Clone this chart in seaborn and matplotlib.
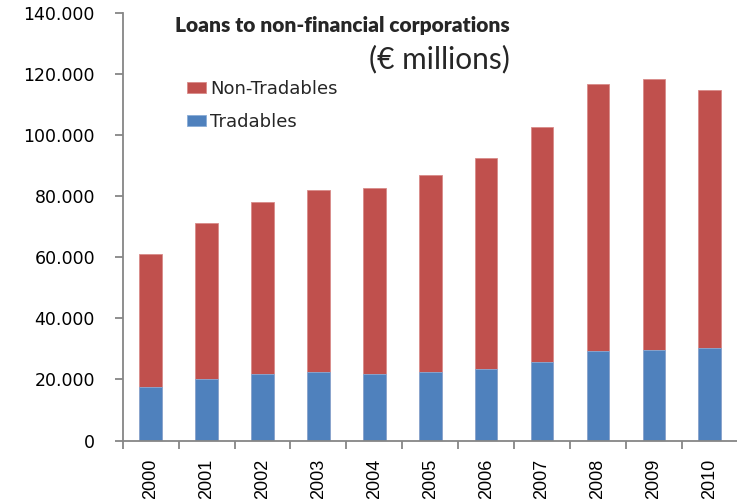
import matplotlib
matplotlib.use("Agg")
import matplotlib.pyplot as plt
from matplotlib import font_manager
from matplotlib.ticker import FuncFormatter, FixedLocator
import seaborn as sns
import pandas as pd
import numpy as np

years = ["2000", "2001", "2002", "2003", "2004", "2005",
         "2006", "2007", "2008", "2009", "2010"]
tradables = [17400, 20100, 21900, 22400, 21900, 22400,
             23500, 25800, 29300, 29800, 30200]
non_tradables = [43700, 51300, 56200, 59600, 61000, 64600,
                 69100, 76900, 87400, 88800, 84800]

title = "Loans to non-financial corporations"
subtitle = "(€ millions)"
series_names = ["Non-Tradables", "Tradables"]
y_ticks = [0, 20000, 40000, 60000, 80000, 100000, 120000, 140000]

BLUE = "#4F81BD"
RED = "#C0504D"
AXIS = "#868686"

sns.set_theme(style="white")
plt.rcParams["font.family"] = ["DejaVu Sans"]

names = {f.name for f in font_manager.fontManager.ttflist}
narrow = "Liberation Sans Narrow" if "Liberation Sans Narrow" in names else "Liberation Sans"
title_font = "Lato" if "Lato" in names else "DejaVu Sans"

df = pd.DataFrame({
    "year": years,
    "Tradables": tradables,
    "Non-Tradables": non_tradables,
})
df["total"] = df["Tradables"] + df["Non-Tradables"]

fig = plt.figure(figsize=(7.37, 4.99), dpi=100)
ax = fig.add_axes([0.1665, 0.1172, 0.8345, 0.856])

sns.barplot(data=df, x="year", y="total", color=RED, width=0.405,
            saturation=1, edgecolor="#D98B89", linewidth=0.6,
            label=series_names[0], ax=ax)
sns.barplot(data=df, x="year", y="Tradables", color=BLUE, width=0.405,
            saturation=1, edgecolor="#8AACD6", linewidth=0.6,
            label=series_names[1], ax=ax)

ax.set_xlim(-0.5, len(years) - 0.5)
ax.set_ylim(0, 140000)
ax.set_yticks(y_ticks)
ax.yaxis.set_major_formatter(FuncFormatter(lambda v, p: f"{int(v):,}".replace(",", ".")))
ax.set_xlabel("")
ax.set_ylabel("")

for s in ["top", "right"]:
    ax.spines[s].set_visible(False)
for s in ["left", "bottom"]:
    ax.spines[s].set_color(AXIS)
    ax.spines[s].set_linewidth(1.3)

ax.tick_params(axis="y", which="major", direction="out", length=6, width=1.3,
               color=AXIS, left=True, pad=14, labelsize=12.5, labelcolor="black")
ax.xaxis.set_minor_locator(FixedLocator(np.arange(-0.5, len(years), 1.0)))
ax.tick_params(axis="x", which="minor", direction="out", length=6, width=1.3,
               color=AXIS, bottom=True)
ax.tick_params(axis="x", which="major", length=0, pad=13, labelsize=13,
               labelcolor="black")
for lab in ax.get_xticklabels():
    lab.set_rotation(90)
    lab.set_family([narrow, "DejaVu Sans"])
    lab.set_va("top")

handles, labels = ax.get_legend_handles_labels()
leg = ax.legend(handles, labels, loc="upper left", frameon=False, fontsize=13,
                handlelength=1.05, handleheight=0.55, handletextpad=0.2,
                labelspacing=0.85, borderaxespad=0)
leg.set_bbox_to_anchor((0.0935, 0.862), transform=ax.transAxes)

fig.text(510 / 737, 1 - 32 / 499, title, ha="right", va="baseline",
         fontsize=15, fontweight="heavy", family=[title_font, "DejaVu Sans"])
fig.text(510 / 737, 1 - 68 / 499, subtitle, ha="right", va="baseline",
         fontsize=21.5, family=[title_font, "DejaVu Sans"])

fig.savefig("out.png", dpi=100)
